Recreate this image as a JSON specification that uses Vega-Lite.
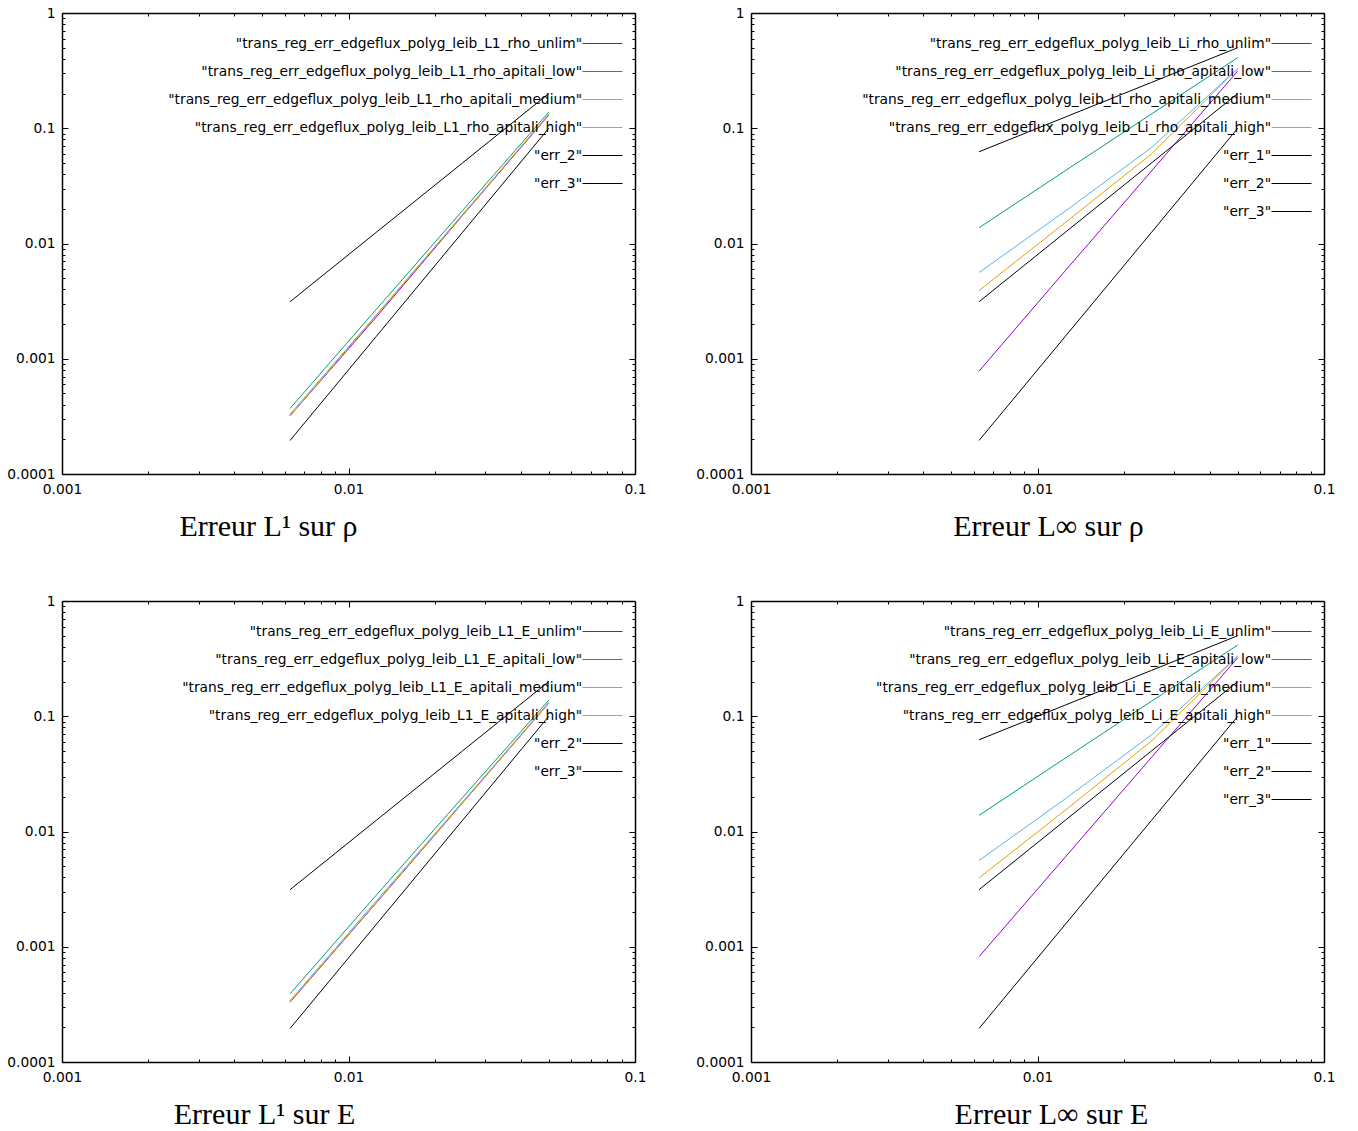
{
  "$schema": "https://vega.github.io/schema/vega-lite/v6.json",
  "background": "white",
  "padding": {"left": 6, "top": 6, "right": 5, "bottom": 5},
  "config": {
    "axis": {"domainColor": "black", "domainWidth": 1.5, "tickColor": "black", "tickWidth": 1, "labelFont": "DejaVu Sans", "labelFontSize": 13.8, "labelColor": "black", "grid": false, "labelFlush": false, "labelOverlap": false},
    "legend": {"labelFont": "DejaVu Sans", "labelFontSize": 13.8, "labelColor": "black", "labelLimit": 0},
    "title": {"font": "Liberation Serif", "fontSize": 30, "fontWeight": "normal", "color": "black"},
    "view": {"stroke": null},
    "line": {"clip": true}
  },
  "columns": 2,
  "bounds": "flush",
  "spacing": {"row": 127, "column": 116},
  "resolve": {"scale": {"color": "independent", "strokeWidth": "independent"}, "legend": {"color": "independent"}},
  "concat": [
    {
      "width": 573, "height": 461,
      "title": {"text": "Erreur L¹ sur ρ", "orient": "bottom", "anchor": "middle", "frame": "group", "dx": -80, "offset": 13},
      "data": {"values": [
        {"s": "trans_reg_err_edgeflux_polyg_leib_L1_rho_unlim", "h": 0.00625, "err": 0.00032},
        {"s": "trans_reg_err_edgeflux_polyg_leib_L1_rho_unlim", "h": 0.0125, "err": 0.0023},
        {"s": "trans_reg_err_edgeflux_polyg_leib_L1_rho_unlim", "h": 0.025, "err": 0.0175},
        {"s": "trans_reg_err_edgeflux_polyg_leib_L1_rho_unlim", "h": 0.05, "err": 0.13},
        {"s": "trans_reg_err_edgeflux_polyg_leib_L1_rho_apitali_low", "h": 0.00625, "err": 0.00037},
        {"s": "trans_reg_err_edgeflux_polyg_leib_L1_rho_apitali_low", "h": 0.0125, "err": 0.00268},
        {"s": "trans_reg_err_edgeflux_polyg_leib_L1_rho_apitali_low", "h": 0.025, "err": 0.0193},
        {"s": "trans_reg_err_edgeflux_polyg_leib_L1_rho_apitali_low", "h": 0.05, "err": 0.138},
        {"s": "trans_reg_err_edgeflux_polyg_leib_L1_rho_apitali_medium", "h": 0.00625, "err": 0.00033},
        {"s": "trans_reg_err_edgeflux_polyg_leib_L1_rho_apitali_medium", "h": 0.0125, "err": 0.0024},
        {"s": "trans_reg_err_edgeflux_polyg_leib_L1_rho_apitali_medium", "h": 0.025, "err": 0.0178},
        {"s": "trans_reg_err_edgeflux_polyg_leib_L1_rho_apitali_medium", "h": 0.05, "err": 0.132},
        {"s": "trans_reg_err_edgeflux_polyg_leib_L1_rho_apitali_high", "h": 0.00625, "err": 0.00032},
        {"s": "trans_reg_err_edgeflux_polyg_leib_L1_rho_apitali_high", "h": 0.0125, "err": 0.00238},
        {"s": "trans_reg_err_edgeflux_polyg_leib_L1_rho_apitali_high", "h": 0.025, "err": 0.0177},
        {"s": "trans_reg_err_edgeflux_polyg_leib_L1_rho_apitali_high", "h": 0.05, "err": 0.132},
        {"s": "err_2", "h": 0.00625, "err": 0.003125},
        {"s": "err_2", "h": 0.0125, "err": 0.0125},
        {"s": "err_2", "h": 0.025, "err": 0.05},
        {"s": "err_2", "h": 0.05, "err": 0.2},
        {"s": "err_3", "h": 0.00625, "err": 0.0001953},
        {"s": "err_3", "h": 0.0125, "err": 0.0015625},
        {"s": "err_3", "h": 0.025, "err": 0.0125},
        {"s": "err_3", "h": 0.05, "err": 0.1}
      ]},
      "layer": [
        {
          "mark": {"type": "line"},
          "encoding": {
            "x": {"field": "h", "type": "quantitative", "title": null, "scale": {"type": "log", "domain": [0.001, 0.1]},
              "axis": {"orient": "bottom", "values": [0.001,0.002,0.003,0.004,0.005,0.006,0.007,0.008,0.009,0.01,0.02,0.03,0.04,0.05,0.06,0.07,0.08,0.09,0.1],
                "labelExpr": "abs(log(datum.value)/LN10 - round(log(datum.value)/LN10)) < 0.001 ? format(datum.value, '~g') : ''",
                "tickSize": {"condition": {"test": "abs(log(datum.value)/LN10 - round(log(datum.value)/LN10)) < 0.001", "value": -6}, "value": -3}, "labelPadding": 14}},
            "y": {"field": "err", "type": "quantitative", "title": null, "scale": {"type": "log", "domain": [0.0001, 1]},
              "axis": {"orient": "left", "values": [0.0001,0.0002,0.0003,0.0004,0.0005,0.0006,0.0007,0.0008,0.0009,0.001,0.002,0.003,0.004,0.005,0.006,0.007,0.008,0.009,0.01,0.02,0.03,0.04,0.05,0.06,0.07,0.08,0.09,0.1,0.2,0.3,0.4,0.5,0.6,0.7,0.8,0.9,1],
                "labelExpr": "abs(log(datum.value)/LN10 - round(log(datum.value)/LN10)) < 0.001 ? format(datum.value, '~g') : ''",
                "tickSize": {"condition": {"test": "abs(log(datum.value)/LN10 - round(log(datum.value)/LN10)) < 0.001", "value": -6}, "value": -3}, "labelPadding": 13}},
            "color": {"field": "s", "type": "nominal", "sort": null,
              "scale": {"domain": ["trans_reg_err_edgeflux_polyg_leib_L1_rho_unlim","trans_reg_err_edgeflux_polyg_leib_L1_rho_apitali_low","trans_reg_err_edgeflux_polyg_leib_L1_rho_apitali_medium","trans_reg_err_edgeflux_polyg_leib_L1_rho_apitali_high","err_2","err_3"],
                "range": ["#9400d3","#009e73","#56b4e9","#e69f00","#000000","#000000"]},
              "legend": {"orient": "top-right", "title": null, "symbolType": "stroke", "symbolSize": 256, "labelAlign": "right", "labelOffset": -41, "labelExpr": "'\"' + datum.label + '\"'", "rowPadding": 0, "padding": 0, "offset": 10,
                "encode": {"symbols": {"update": {"size": {"value": 1600}, "strokeWidth": {"signal": "indexof(datum.value, 'err_') === 0 ? 2 : 1"}}}}}},
            "strokeWidth": {"field": "s", "type": "nominal", "sort": null, "legend": null,
              "scale": {"domain": ["trans_reg_err_edgeflux_polyg_leib_L1_rho_unlim","trans_reg_err_edgeflux_polyg_leib_L1_rho_apitali_low","trans_reg_err_edgeflux_polyg_leib_L1_rho_apitali_medium","trans_reg_err_edgeflux_polyg_leib_L1_rho_apitali_high","err_2","err_3"],
                "range": [1,1,1,1,2,2]}}
          }
        },
        {
          "mark": {"type": "point", "opacity": 0},
          "encoding": {
            "x": {"field": "h", "type": "quantitative", "title": null,
              "axis": {"orient": "top", "labels": false, "values": [0.001,0.002,0.003,0.004,0.005,0.006,0.007,0.008,0.009,0.01,0.02,0.03,0.04,0.05,0.06,0.07,0.08,0.09,0.1],
                "tickSize": {"condition": {"test": "abs(log(datum.value)/LN10 - round(log(datum.value)/LN10)) < 0.001", "value": -6}, "value": -3}}},
            "y": {"field": "err", "type": "quantitative", "title": null,
              "axis": {"orient": "right", "labels": false, "values": [0.0001,0.0002,0.0003,0.0004,0.0005,0.0006,0.0007,0.0008,0.0009,0.001,0.002,0.003,0.004,0.005,0.006,0.007,0.008,0.009,0.01,0.02,0.03,0.04,0.05,0.06,0.07,0.08,0.09,0.1,0.2,0.3,0.4,0.5,0.6,0.7,0.8,0.9,1],
                "tickSize": {"condition": {"test": "abs(log(datum.value)/LN10 - round(log(datum.value)/LN10)) < 0.001", "value": -6}, "value": -3}}}
          }
        }
      ],
      "resolve": {"axis": {"x": "independent", "y": "independent"}}
    },
    {
      "width": 573, "height": 461,
      "title": {"text": "Erreur L∞ sur ρ", "orient": "bottom", "anchor": "middle", "frame": "group", "dx": 11, "offset": 13},
      "data": {"values": [
        {"s": "trans_reg_err_edgeflux_polyg_leib_Li_rho_unlim", "h": 0.00625, "err": 0.00078},
        {"s": "trans_reg_err_edgeflux_polyg_leib_Li_rho_unlim", "h": 0.0125, "err": 0.0058},
        {"s": "trans_reg_err_edgeflux_polyg_leib_Li_rho_unlim", "h": 0.025, "err": 0.0426},
        {"s": "trans_reg_err_edgeflux_polyg_leib_Li_rho_unlim", "h": 0.05, "err": 0.314},
        {"s": "trans_reg_err_edgeflux_polyg_leib_Li_rho_apitali_low", "h": 0.00625, "err": 0.0137},
        {"s": "trans_reg_err_edgeflux_polyg_leib_Li_rho_apitali_low", "h": 0.0125, "err": 0.0428},
        {"s": "trans_reg_err_edgeflux_polyg_leib_Li_rho_apitali_low", "h": 0.025, "err": 0.133},
        {"s": "trans_reg_err_edgeflux_polyg_leib_Li_rho_apitali_low", "h": 0.05, "err": 0.41},
        {"s": "trans_reg_err_edgeflux_polyg_leib_Li_rho_apitali_medium", "h": 0.00625, "err": 0.0056},
        {"s": "trans_reg_err_edgeflux_polyg_leib_Li_rho_apitali_medium", "h": 0.0125, "err": 0.0191},
        {"s": "trans_reg_err_edgeflux_polyg_leib_Li_rho_apitali_medium", "h": 0.025, "err": 0.068},
        {"s": "trans_reg_err_edgeflux_polyg_leib_Li_rho_apitali_medium", "h": 0.05, "err": 0.33},
        {"s": "trans_reg_err_edgeflux_polyg_leib_Li_rho_apitali_high", "h": 0.00625, "err": 0.0039},
        {"s": "trans_reg_err_edgeflux_polyg_leib_Li_rho_apitali_high", "h": 0.0125, "err": 0.0152},
        {"s": "trans_reg_err_edgeflux_polyg_leib_Li_rho_apitali_high", "h": 0.025, "err": 0.06},
        {"s": "trans_reg_err_edgeflux_polyg_leib_Li_rho_apitali_high", "h": 0.05, "err": 0.33},
        {"s": "err_1", "h": 0.00625, "err": 0.0625},
        {"s": "err_1", "h": 0.0125, "err": 0.125},
        {"s": "err_1", "h": 0.025, "err": 0.25},
        {"s": "err_1", "h": 0.05, "err": 0.5},
        {"s": "err_2", "h": 0.00625, "err": 0.003125},
        {"s": "err_2", "h": 0.0125, "err": 0.0125},
        {"s": "err_2", "h": 0.025, "err": 0.05},
        {"s": "err_2", "h": 0.05, "err": 0.2},
        {"s": "err_3", "h": 0.00625, "err": 0.0001953},
        {"s": "err_3", "h": 0.0125, "err": 0.0015625},
        {"s": "err_3", "h": 0.025, "err": 0.0125},
        {"s": "err_3", "h": 0.05, "err": 0.1}
      ]},
      "layer": [
        {
          "mark": {"type": "line"},
          "encoding": {
            "x": {"field": "h", "type": "quantitative", "title": null, "scale": {"type": "log", "domain": [0.001, 0.1]},
              "axis": {"orient": "bottom", "values": [0.001,0.002,0.003,0.004,0.005,0.006,0.007,0.008,0.009,0.01,0.02,0.03,0.04,0.05,0.06,0.07,0.08,0.09,0.1],
                "labelExpr": "abs(log(datum.value)/LN10 - round(log(datum.value)/LN10)) < 0.001 ? format(datum.value, '~g') : ''",
                "tickSize": {"condition": {"test": "abs(log(datum.value)/LN10 - round(log(datum.value)/LN10)) < 0.001", "value": -6}, "value": -3}, "labelPadding": 14}},
            "y": {"field": "err", "type": "quantitative", "title": null, "scale": {"type": "log", "domain": [0.0001, 1]},
              "axis": {"orient": "left", "values": [0.0001,0.0002,0.0003,0.0004,0.0005,0.0006,0.0007,0.0008,0.0009,0.001,0.002,0.003,0.004,0.005,0.006,0.007,0.008,0.009,0.01,0.02,0.03,0.04,0.05,0.06,0.07,0.08,0.09,0.1,0.2,0.3,0.4,0.5,0.6,0.7,0.8,0.9,1],
                "labelExpr": "abs(log(datum.value)/LN10 - round(log(datum.value)/LN10)) < 0.001 ? format(datum.value, '~g') : ''",
                "tickSize": {"condition": {"test": "abs(log(datum.value)/LN10 - round(log(datum.value)/LN10)) < 0.001", "value": -6}, "value": -3}, "labelPadding": 13}},
            "color": {"field": "s", "type": "nominal", "sort": null,
              "scale": {"domain": ["trans_reg_err_edgeflux_polyg_leib_Li_rho_unlim","trans_reg_err_edgeflux_polyg_leib_Li_rho_apitali_low","trans_reg_err_edgeflux_polyg_leib_Li_rho_apitali_medium","trans_reg_err_edgeflux_polyg_leib_Li_rho_apitali_high","err_1","err_2","err_3"],
                "range": ["#9400d3","#009e73","#56b4e9","#e69f00","#000000","#000000","#000000"]},
              "legend": {"orient": "top-right", "title": null, "symbolType": "stroke", "symbolSize": 256, "labelAlign": "right", "labelOffset": -41, "labelExpr": "'\"' + datum.label + '\"'", "rowPadding": 0, "padding": 0, "offset": 10,
                "encode": {"symbols": {"update": {"size": {"value": 1600}, "strokeWidth": {"signal": "indexof(datum.value, 'err_') === 0 ? 2 : 1"}}}}}},
            "strokeWidth": {"field": "s", "type": "nominal", "sort": null, "legend": null,
              "scale": {"domain": ["trans_reg_err_edgeflux_polyg_leib_Li_rho_unlim","trans_reg_err_edgeflux_polyg_leib_Li_rho_apitali_low","trans_reg_err_edgeflux_polyg_leib_Li_rho_apitali_medium","trans_reg_err_edgeflux_polyg_leib_Li_rho_apitali_high","err_1","err_2","err_3"],
                "range": [1,1,1,1,2,2,2]}}
          }
        },
        {
          "mark": {"type": "point", "opacity": 0},
          "encoding": {
            "x": {"field": "h", "type": "quantitative", "title": null,
              "axis": {"orient": "top", "labels": false, "values": [0.001,0.002,0.003,0.004,0.005,0.006,0.007,0.008,0.009,0.01,0.02,0.03,0.04,0.05,0.06,0.07,0.08,0.09,0.1],
                "tickSize": {"condition": {"test": "abs(log(datum.value)/LN10 - round(log(datum.value)/LN10)) < 0.001", "value": -6}, "value": -3}}},
            "y": {"field": "err", "type": "quantitative", "title": null,
              "axis": {"orient": "right", "labels": false, "values": [0.0001,0.0002,0.0003,0.0004,0.0005,0.0006,0.0007,0.0008,0.0009,0.001,0.002,0.003,0.004,0.005,0.006,0.007,0.008,0.009,0.01,0.02,0.03,0.04,0.05,0.06,0.07,0.08,0.09,0.1,0.2,0.3,0.4,0.5,0.6,0.7,0.8,0.9,1],
                "tickSize": {"condition": {"test": "abs(log(datum.value)/LN10 - round(log(datum.value)/LN10)) < 0.001", "value": -6}, "value": -3}}}
          }
        }
      ],
      "resolve": {"axis": {"x": "independent", "y": "independent"}}
    },
    {
      "width": 573, "height": 461,
      "title": {"text": "Erreur L¹ sur E", "orient": "bottom", "anchor": "middle", "frame": "group", "dx": -84, "offset": 13},
      "data": {"values": [
        {"s": "trans_reg_err_edgeflux_polyg_leib_L1_E_unlim", "h": 0.00625, "err": 0.00033},
        {"s": "trans_reg_err_edgeflux_polyg_leib_L1_E_unlim", "h": 0.0125, "err": 0.0024},
        {"s": "trans_reg_err_edgeflux_polyg_leib_L1_E_unlim", "h": 0.025, "err": 0.0177},
        {"s": "trans_reg_err_edgeflux_polyg_leib_L1_E_unlim", "h": 0.05, "err": 0.13},
        {"s": "trans_reg_err_edgeflux_polyg_leib_L1_E_apitali_low", "h": 0.00625, "err": 0.00039},
        {"s": "trans_reg_err_edgeflux_polyg_leib_L1_E_apitali_low", "h": 0.0125, "err": 0.0028},
        {"s": "trans_reg_err_edgeflux_polyg_leib_L1_E_apitali_low", "h": 0.025, "err": 0.0197},
        {"s": "trans_reg_err_edgeflux_polyg_leib_L1_E_apitali_low", "h": 0.05, "err": 0.138},
        {"s": "trans_reg_err_edgeflux_polyg_leib_L1_E_apitali_medium", "h": 0.00625, "err": 0.00034},
        {"s": "trans_reg_err_edgeflux_polyg_leib_L1_E_apitali_medium", "h": 0.0125, "err": 0.0025},
        {"s": "trans_reg_err_edgeflux_polyg_leib_L1_E_apitali_medium", "h": 0.025, "err": 0.018},
        {"s": "trans_reg_err_edgeflux_polyg_leib_L1_E_apitali_medium", "h": 0.05, "err": 0.132},
        {"s": "trans_reg_err_edgeflux_polyg_leib_L1_E_apitali_high", "h": 0.00625, "err": 0.000333},
        {"s": "trans_reg_err_edgeflux_polyg_leib_L1_E_apitali_high", "h": 0.0125, "err": 0.00242},
        {"s": "trans_reg_err_edgeflux_polyg_leib_L1_E_apitali_high", "h": 0.025, "err": 0.0178},
        {"s": "trans_reg_err_edgeflux_polyg_leib_L1_E_apitali_high", "h": 0.05, "err": 0.131},
        {"s": "err_2", "h": 0.00625, "err": 0.003125},
        {"s": "err_2", "h": 0.0125, "err": 0.0125},
        {"s": "err_2", "h": 0.025, "err": 0.05},
        {"s": "err_2", "h": 0.05, "err": 0.2},
        {"s": "err_3", "h": 0.00625, "err": 0.0001953},
        {"s": "err_3", "h": 0.0125, "err": 0.0015625},
        {"s": "err_3", "h": 0.025, "err": 0.0125},
        {"s": "err_3", "h": 0.05, "err": 0.1}
      ]},
      "layer": [
        {
          "mark": {"type": "line"},
          "encoding": {
            "x": {"field": "h", "type": "quantitative", "title": null, "scale": {"type": "log", "domain": [0.001, 0.1]},
              "axis": {"orient": "bottom", "values": [0.001,0.002,0.003,0.004,0.005,0.006,0.007,0.008,0.009,0.01,0.02,0.03,0.04,0.05,0.06,0.07,0.08,0.09,0.1],
                "labelExpr": "abs(log(datum.value)/LN10 - round(log(datum.value)/LN10)) < 0.001 ? format(datum.value, '~g') : ''",
                "tickSize": {"condition": {"test": "abs(log(datum.value)/LN10 - round(log(datum.value)/LN10)) < 0.001", "value": -6}, "value": -3}, "labelPadding": 14}},
            "y": {"field": "err", "type": "quantitative", "title": null, "scale": {"type": "log", "domain": [0.0001, 1]},
              "axis": {"orient": "left", "values": [0.0001,0.0002,0.0003,0.0004,0.0005,0.0006,0.0007,0.0008,0.0009,0.001,0.002,0.003,0.004,0.005,0.006,0.007,0.008,0.009,0.01,0.02,0.03,0.04,0.05,0.06,0.07,0.08,0.09,0.1,0.2,0.3,0.4,0.5,0.6,0.7,0.8,0.9,1],
                "labelExpr": "abs(log(datum.value)/LN10 - round(log(datum.value)/LN10)) < 0.001 ? format(datum.value, '~g') : ''",
                "tickSize": {"condition": {"test": "abs(log(datum.value)/LN10 - round(log(datum.value)/LN10)) < 0.001", "value": -6}, "value": -3}, "labelPadding": 13}},
            "color": {"field": "s", "type": "nominal", "sort": null,
              "scale": {"domain": ["trans_reg_err_edgeflux_polyg_leib_L1_E_unlim","trans_reg_err_edgeflux_polyg_leib_L1_E_apitali_low","trans_reg_err_edgeflux_polyg_leib_L1_E_apitali_medium","trans_reg_err_edgeflux_polyg_leib_L1_E_apitali_high","err_2","err_3"],
                "range": ["#9400d3","#009e73","#56b4e9","#e69f00","#000000","#000000"]},
              "legend": {"orient": "top-right", "title": null, "symbolType": "stroke", "symbolSize": 256, "labelAlign": "right", "labelOffset": -41, "labelExpr": "'\"' + datum.label + '\"'", "rowPadding": 0, "padding": 0, "offset": 10,
                "encode": {"symbols": {"update": {"size": {"value": 1600}, "strokeWidth": {"signal": "indexof(datum.value, 'err_') === 0 ? 2 : 1"}}}}}},
            "strokeWidth": {"field": "s", "type": "nominal", "sort": null, "legend": null,
              "scale": {"domain": ["trans_reg_err_edgeflux_polyg_leib_L1_E_unlim","trans_reg_err_edgeflux_polyg_leib_L1_E_apitali_low","trans_reg_err_edgeflux_polyg_leib_L1_E_apitali_medium","trans_reg_err_edgeflux_polyg_leib_L1_E_apitali_high","err_2","err_3"],
                "range": [1,1,1,1,2,2]}}
          }
        },
        {
          "mark": {"type": "point", "opacity": 0},
          "encoding": {
            "x": {"field": "h", "type": "quantitative", "title": null,
              "axis": {"orient": "top", "labels": false, "values": [0.001,0.002,0.003,0.004,0.005,0.006,0.007,0.008,0.009,0.01,0.02,0.03,0.04,0.05,0.06,0.07,0.08,0.09,0.1],
                "tickSize": {"condition": {"test": "abs(log(datum.value)/LN10 - round(log(datum.value)/LN10)) < 0.001", "value": -6}, "value": -3}}},
            "y": {"field": "err", "type": "quantitative", "title": null,
              "axis": {"orient": "right", "labels": false, "values": [0.0001,0.0002,0.0003,0.0004,0.0005,0.0006,0.0007,0.0008,0.0009,0.001,0.002,0.003,0.004,0.005,0.006,0.007,0.008,0.009,0.01,0.02,0.03,0.04,0.05,0.06,0.07,0.08,0.09,0.1,0.2,0.3,0.4,0.5,0.6,0.7,0.8,0.9,1],
                "tickSize": {"condition": {"test": "abs(log(datum.value)/LN10 - round(log(datum.value)/LN10)) < 0.001", "value": -6}, "value": -3}}}
          }
        }
      ],
      "resolve": {"axis": {"x": "independent", "y": "independent"}}
    },
    {
      "width": 573, "height": 461,
      "title": {"text": "Erreur L∞ sur E", "orient": "bottom", "anchor": "middle", "frame": "group", "dx": 14, "offset": 13},
      "data": {"values": [
        {"s": "trans_reg_err_edgeflux_polyg_leib_Li_E_unlim", "h": 0.00625, "err": 0.00082},
        {"s": "trans_reg_err_edgeflux_polyg_leib_Li_E_unlim", "h": 0.0125, "err": 0.006},
        {"s": "trans_reg_err_edgeflux_polyg_leib_Li_E_unlim", "h": 0.025, "err": 0.044},
        {"s": "trans_reg_err_edgeflux_polyg_leib_Li_E_unlim", "h": 0.05, "err": 0.322},
        {"s": "trans_reg_err_edgeflux_polyg_leib_Li_E_apitali_low", "h": 0.00625, "err": 0.0138},
        {"s": "trans_reg_err_edgeflux_polyg_leib_Li_E_apitali_low", "h": 0.0125, "err": 0.0433},
        {"s": "trans_reg_err_edgeflux_polyg_leib_Li_E_apitali_low", "h": 0.025, "err": 0.135},
        {"s": "trans_reg_err_edgeflux_polyg_leib_Li_E_apitali_low", "h": 0.05, "err": 0.415},
        {"s": "trans_reg_err_edgeflux_polyg_leib_Li_E_apitali_medium", "h": 0.00625, "err": 0.0056},
        {"s": "trans_reg_err_edgeflux_polyg_leib_Li_E_apitali_medium", "h": 0.0125, "err": 0.0192},
        {"s": "trans_reg_err_edgeflux_polyg_leib_Li_E_apitali_medium", "h": 0.025, "err": 0.069},
        {"s": "trans_reg_err_edgeflux_polyg_leib_Li_E_apitali_medium", "h": 0.05, "err": 0.333},
        {"s": "trans_reg_err_edgeflux_polyg_leib_Li_E_apitali_high", "h": 0.00625, "err": 0.00395},
        {"s": "trans_reg_err_edgeflux_polyg_leib_Li_E_apitali_high", "h": 0.0125, "err": 0.0153},
        {"s": "trans_reg_err_edgeflux_polyg_leib_Li_E_apitali_high", "h": 0.025, "err": 0.061},
        {"s": "trans_reg_err_edgeflux_polyg_leib_Li_E_apitali_high", "h": 0.05, "err": 0.333},
        {"s": "err_1", "h": 0.00625, "err": 0.0625},
        {"s": "err_1", "h": 0.0125, "err": 0.125},
        {"s": "err_1", "h": 0.025, "err": 0.25},
        {"s": "err_1", "h": 0.05, "err": 0.5},
        {"s": "err_2", "h": 0.00625, "err": 0.003125},
        {"s": "err_2", "h": 0.0125, "err": 0.0125},
        {"s": "err_2", "h": 0.025, "err": 0.05},
        {"s": "err_2", "h": 0.05, "err": 0.2},
        {"s": "err_3", "h": 0.00625, "err": 0.0001953},
        {"s": "err_3", "h": 0.0125, "err": 0.0015625},
        {"s": "err_3", "h": 0.025, "err": 0.0125},
        {"s": "err_3", "h": 0.05, "err": 0.1}
      ]},
      "layer": [
        {
          "mark": {"type": "line"},
          "encoding": {
            "x": {"field": "h", "type": "quantitative", "title": null, "scale": {"type": "log", "domain": [0.001, 0.1]},
              "axis": {"orient": "bottom", "values": [0.001,0.002,0.003,0.004,0.005,0.006,0.007,0.008,0.009,0.01,0.02,0.03,0.04,0.05,0.06,0.07,0.08,0.09,0.1],
                "labelExpr": "abs(log(datum.value)/LN10 - round(log(datum.value)/LN10)) < 0.001 ? format(datum.value, '~g') : ''",
                "tickSize": {"condition": {"test": "abs(log(datum.value)/LN10 - round(log(datum.value)/LN10)) < 0.001", "value": -6}, "value": -3}, "labelPadding": 14}},
            "y": {"field": "err", "type": "quantitative", "title": null, "scale": {"type": "log", "domain": [0.0001, 1]},
              "axis": {"orient": "left", "values": [0.0001,0.0002,0.0003,0.0004,0.0005,0.0006,0.0007,0.0008,0.0009,0.001,0.002,0.003,0.004,0.005,0.006,0.007,0.008,0.009,0.01,0.02,0.03,0.04,0.05,0.06,0.07,0.08,0.09,0.1,0.2,0.3,0.4,0.5,0.6,0.7,0.8,0.9,1],
                "labelExpr": "abs(log(datum.value)/LN10 - round(log(datum.value)/LN10)) < 0.001 ? format(datum.value, '~g') : ''",
                "tickSize": {"condition": {"test": "abs(log(datum.value)/LN10 - round(log(datum.value)/LN10)) < 0.001", "value": -6}, "value": -3}, "labelPadding": 13}},
            "color": {"field": "s", "type": "nominal", "sort": null,
              "scale": {"domain": ["trans_reg_err_edgeflux_polyg_leib_Li_E_unlim","trans_reg_err_edgeflux_polyg_leib_Li_E_apitali_low","trans_reg_err_edgeflux_polyg_leib_Li_E_apitali_medium","trans_reg_err_edgeflux_polyg_leib_Li_E_apitali_high","err_1","err_2","err_3"],
                "range": ["#9400d3","#009e73","#56b4e9","#e69f00","#000000","#000000","#000000"]},
              "legend": {"orient": "top-right", "title": null, "symbolType": "stroke", "symbolSize": 256, "labelAlign": "right", "labelOffset": -41, "labelExpr": "'\"' + datum.label + '\"'", "rowPadding": 0, "padding": 0, "offset": 10,
                "encode": {"symbols": {"update": {"size": {"value": 1600}, "strokeWidth": {"signal": "indexof(datum.value, 'err_') === 0 ? 2 : 1"}}}}}},
            "strokeWidth": {"field": "s", "type": "nominal", "sort": null, "legend": null,
              "scale": {"domain": ["trans_reg_err_edgeflux_polyg_leib_Li_E_unlim","trans_reg_err_edgeflux_polyg_leib_Li_E_apitali_low","trans_reg_err_edgeflux_polyg_leib_Li_E_apitali_medium","trans_reg_err_edgeflux_polyg_leib_Li_E_apitali_high","err_1","err_2","err_3"],
                "range": [1,1,1,1,2,2,2]}}
          }
        },
        {
          "mark": {"type": "point", "opacity": 0},
          "encoding": {
            "x": {"field": "h", "type": "quantitative", "title": null,
              "axis": {"orient": "top", "labels": false, "values": [0.001,0.002,0.003,0.004,0.005,0.006,0.007,0.008,0.009,0.01,0.02,0.03,0.04,0.05,0.06,0.07,0.08,0.09,0.1],
                "tickSize": {"condition": {"test": "abs(log(datum.value)/LN10 - round(log(datum.value)/LN10)) < 0.001", "value": -6}, "value": -3}}},
            "y": {"field": "err", "type": "quantitative", "title": null,
              "axis": {"orient": "right", "labels": false, "values": [0.0001,0.0002,0.0003,0.0004,0.0005,0.0006,0.0007,0.0008,0.0009,0.001,0.002,0.003,0.004,0.005,0.006,0.007,0.008,0.009,0.01,0.02,0.03,0.04,0.05,0.06,0.07,0.08,0.09,0.1,0.2,0.3,0.4,0.5,0.6,0.7,0.8,0.9,1],
                "tickSize": {"condition": {"test": "abs(log(datum.value)/LN10 - round(log(datum.value)/LN10)) < 0.001", "value": -6}, "value": -3}}}
          }
        }
      ],
      "resolve": {"axis": {"x": "independent", "y": "independent"}}
    }
  ]
}
